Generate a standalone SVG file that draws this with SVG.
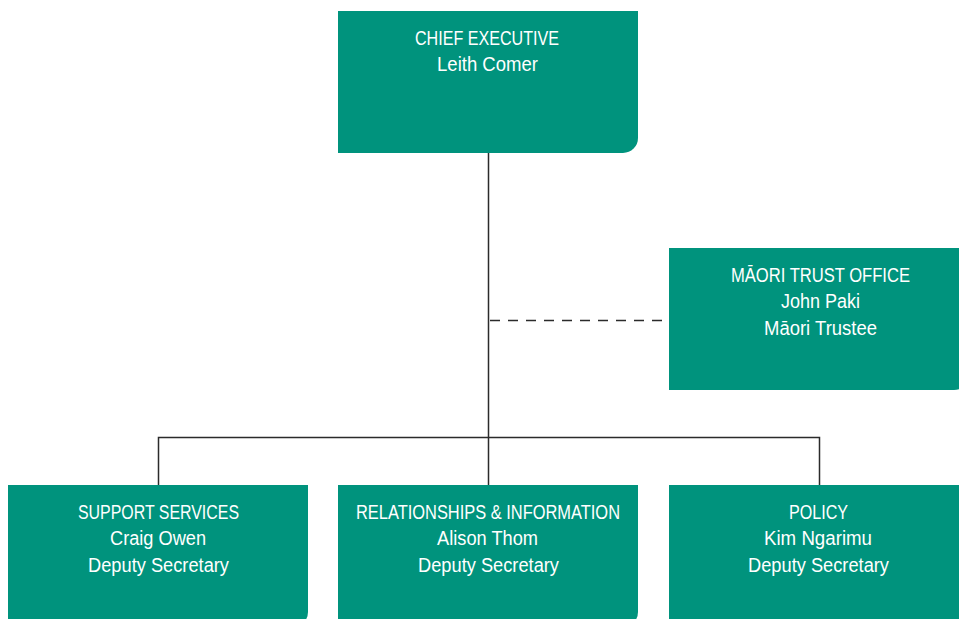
<svg xmlns="http://www.w3.org/2000/svg" width="959" height="619" viewBox="0 0 959 619">
  <style>
    .box { fill: #00937d; }
    .lbl { font-family: "Liberation Sans", Arial, sans-serif; font-size: 20px; fill: #ffffff; text-anchor: middle; }
    .ln { stroke: #2b2b2b; stroke-width: 1.5; fill: none; }
    .dash { stroke-dasharray: 10 8; }
  </style>
  <defs>
    <!-- 300x142 box, only the bottom-right corner rounded -->
    <path id="card" d="M0,0 H300 V127 A15,15 0 0 1 285,142 H0 Z"/>
  </defs>

  <g id="connectors">
    <line class="ln" x1="488.5" y1="153" x2="488.5" y2="485"/>
    <polyline class="ln" points="158.5,485 158.5,437.5 819.5,437.5 819.5,485"/>
    <line class="ln dash" x1="490" y1="320.5" x2="669" y2="320.5"/>
  </g>

  <g id="chief-executive">
    <use href="#card" class="box" x="338" y="11"/>
    <text class="lbl" x="487" y="45" textLength="144" lengthAdjust="spacingAndGlyphs">CHIEF EXECUTIVE</text>
    <text class="lbl" x="487.5" y="71" textLength="101" lengthAdjust="spacingAndGlyphs">Leith Comer</text>
  </g>

  <g id="maori-trust-office">
    <use href="#card" class="box" x="669" y="248"/>
    <text class="lbl" x="820.5" y="282" textLength="179" lengthAdjust="spacingAndGlyphs">MĀORI TRUST OFFICE</text>
    <text class="lbl" x="820.5" y="308" textLength="79" lengthAdjust="spacingAndGlyphs">John Paki</text>
    <text class="lbl" x="820.5" y="335" textLength="113" lengthAdjust="spacingAndGlyphs">Māori Trustee</text>
  </g>

  <g id="support-services">
    <use href="#card" class="box" x="8" y="485"/>
    <text class="lbl" x="158.5" y="519" textLength="161" lengthAdjust="spacingAndGlyphs">SUPPORT SERVICES</text>
    <text class="lbl" x="158" y="545" textLength="96" lengthAdjust="spacingAndGlyphs">Craig Owen</text>
    <text class="lbl" x="158.5" y="572" textLength="141" lengthAdjust="spacingAndGlyphs">Deputy Secretary</text>
  </g>

  <g id="relationships-information">
    <use href="#card" class="box" x="338" y="485"/>
    <text class="lbl" x="488" y="519" textLength="264" lengthAdjust="spacingAndGlyphs">RELATIONSHIPS &amp; INFORMATION</text>
    <text class="lbl" x="487.5" y="545" textLength="101" lengthAdjust="spacingAndGlyphs">Alison Thom</text>
    <text class="lbl" x="488.5" y="572" textLength="141" lengthAdjust="spacingAndGlyphs">Deputy Secretary</text>
  </g>

  <g id="policy">
    <use href="#card" class="box" x="669" y="485"/>
    <text class="lbl" x="818.5" y="519" textLength="59" lengthAdjust="spacingAndGlyphs">POLICY</text>
    <text class="lbl" x="818" y="545" textLength="108" lengthAdjust="spacingAndGlyphs">Kim Ngarimu</text>
    <text class="lbl" x="818.5" y="572" textLength="141" lengthAdjust="spacingAndGlyphs">Deputy Secretary</text>
  </g>
</svg>
